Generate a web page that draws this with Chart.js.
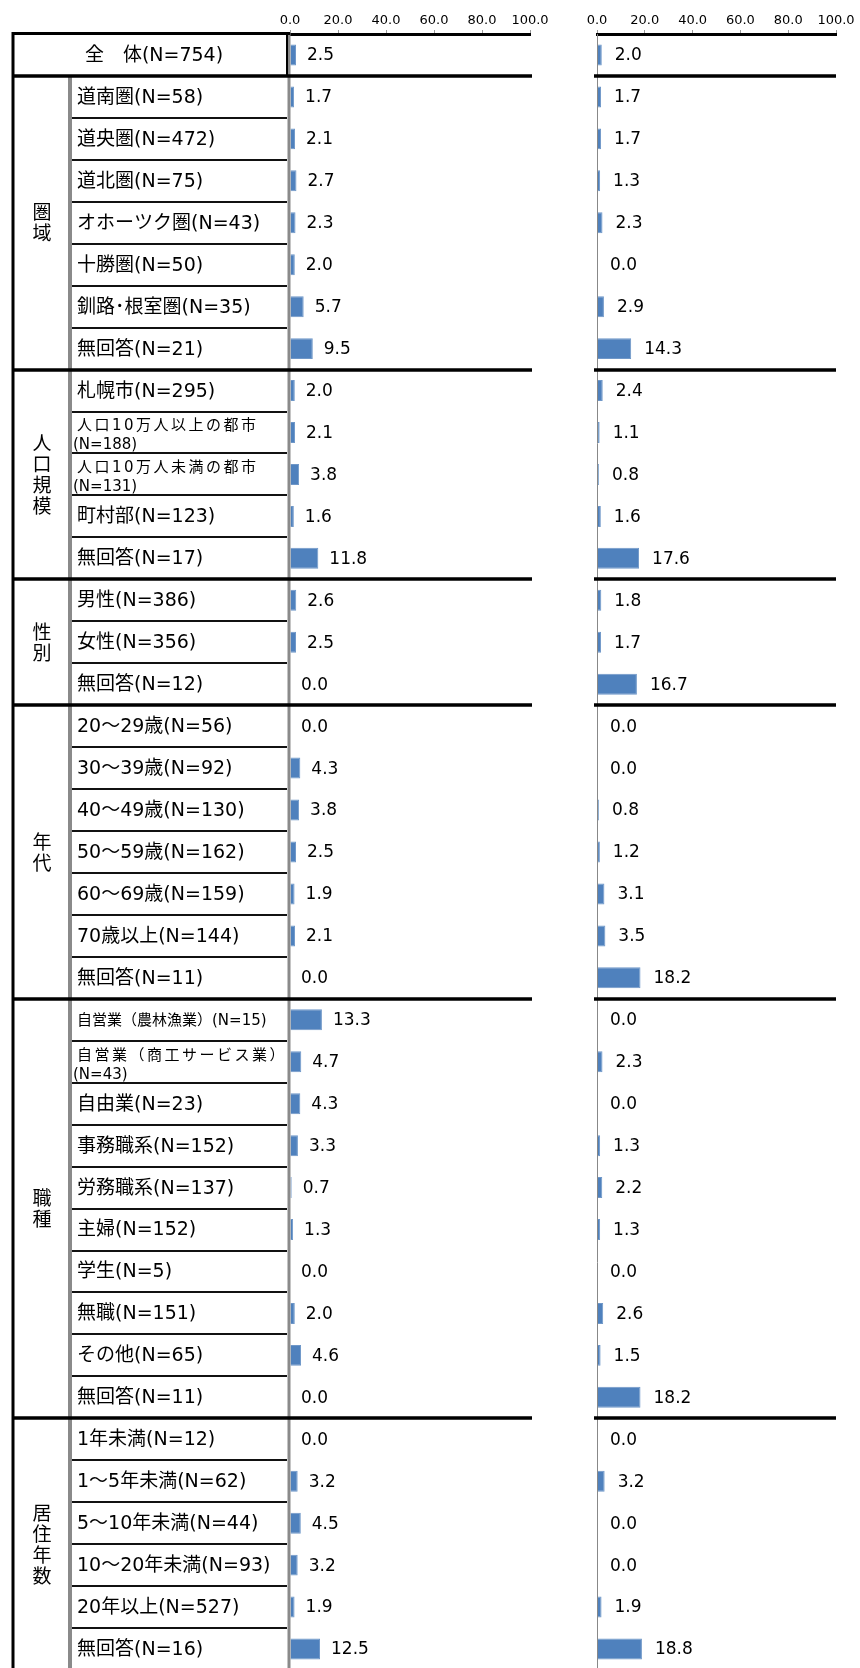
<!DOCTYPE html>
<html lang="ja">
<head>
<meta charset="utf-8">
<script src="https://cdn.jsdelivr.net/npm/chart.js@4.4.1/dist/chart.umd.min.js"></script>
<style>
  html, body { margin: 0; padding: 0; background: #fff; overflow: hidden; }
  #wrap { position: relative; width: 860px; height: 1672px; }
  #leftBox { position: absolute; left: 0; top: 0; width: 560px; height: 1672px; }
  #rightBox { position: absolute; left: 560px; top: 0; width: 300px; height: 1672px; }
</style>
</head>
<body>
<div id="wrap">
  <div id="leftBox"><canvas id="leftChart"></canvas></div>
  <div id="rightBox"><canvas id="rightChart"></canvas></div>
</div>
<script>
// row labels ('\n' = line break inside the cell)
const categories = [
  '全　体(N=754)',
  '道南圏(N=58)', '道央圏(N=472)', '道北圏(N=75)', 'オホーツク圏(N=43)', '十勝圏(N=50)', '釧路･根室圏(N=35)', '無回答(N=21)',
  '札幌市(N=295)', '人口10万人以上の都市\n(N=188)', '人口10万人未満の都市\n(N=131)', '町村部(N=123)', '無回答(N=17)',
  '男性(N=386)', '女性(N=356)', '無回答(N=12)',
  '20～29歳(N=56)', '30～39歳(N=92)', '40～49歳(N=130)', '50～59歳(N=162)', '60～69歳(N=159)', '70歳以上(N=144)', '無回答(N=11)',
  '自営業（農林漁業）(N=15)', '自営業（商工サービス業）\n(N=43)', '自由業(N=23)', '事務職系(N=152)', '労務職系(N=137)', '主婦(N=152)', '学生(N=5)', '無職(N=151)', 'その他(N=65)', '無回答(N=11)',
  '1年未満(N=12)', '1～5年未満(N=62)', '5～10年未満(N=44)', '10～20年未満(N=93)', '20年以上(N=527)', '無回答(N=16)'
];

const leftValues = [
  2.5,
  1.7, 2.1, 2.7, 2.3, 2.0, 5.7, 9.5,
  2.0, 2.1, 3.8, 1.6, 11.8,
  2.6, 2.5, 0.0,
  0.0, 4.3, 3.8, 2.5, 1.9, 2.1, 0.0,
  13.3, 4.7, 4.3, 3.3, 0.7, 1.3, 0.0, 2.0, 4.6, 0.0,
  0.0, 3.2, 4.5, 3.2, 1.9, 12.5
];

const rightValues = [
  2.0,
  1.7, 1.7, 1.3, 2.3, 0.0, 2.9, 14.3,
  2.4, 1.1, 0.8, 1.6, 17.6,
  1.8, 1.7, 16.7,
  0.0, 0.0, 0.8, 1.2, 3.1, 3.5, 18.2,
  0.0, 2.3, 0.0, 1.3, 2.2, 1.3, 0.0, 2.6, 1.5, 18.2,
  0.0, 3.2, 0.0, 0.0, 1.9, 18.8
];

// groups after the first (全体) row
const groupNames = ['圏域', '人口規模', '性別', '年代', '職種', '居住年数'];
const groupSizes = [7, 5, 3, 7, 10, 6];

const tickLabels = ['0.0', '20.0', '40.0', '60.0', '80.0', '100.0'];

const BAR_COLOR = '#4f81bd';
const LABEL_FONT = '"DejaVu Sans", "Noto Sans CJK JP", sans-serif';

// row indexes where a thick group line is drawn (boundary before that row)
function groupBoundaries() {
  const b = [1];
  let r = 1;
  groupSizes.forEach(n => { r += n; b.push(r); });
  return b;
}

function rowGeom(chart) {
  const y = chart.scales.y;
  const h = (y.bottom - y.top) / categories.length;
  return { top: y.top, h: h };
}

const valueLabels = {
  id: 'valueLabels',
  afterDatasetsDraw(chart, args, opts) {
    const ctx = chart.ctx;
    const meta = chart.getDatasetMeta(0);
    const data = chart.data.datasets[0].data;
    ctx.save();
    ctx.font = '17px ' + LABEL_FONT;
    ctx.fillStyle = '#000';
    ctx.textAlign = 'left';
    ctx.textBaseline = 'middle';
    meta.data.forEach((bar, i) => {
      ctx.fillText(data[i].toFixed(1), bar.x + opts.offset, bar.y + 1);
    });
    ctx.restore();
  }
};

// label table on the left side
const tablePlugin = {
  id: 'table',
  afterDraw(chart) {
    const ctx = chart.ctx;
    const g = rowGeom(chart);
    const bottom = chart.height;
    const colL = 13, colG = 70, colR = 287, axisX = chart.chartArea.left;
    ctx.save();

    // item labels
    ctx.fillStyle = '#000';
    ctx.textBaseline = 'middle';
    categories.forEach((lab, i) => {
      const cy = g.top + g.h * (i + 0.5);
      ctx.letterSpacing = '0px';
      if (i === 0) {
        ctx.font = '19px ' + LABEL_FONT;
        ctx.textAlign = 'center';
        ctx.fillText(lab, (colL + colR) / 2 + 4, cy + 1);
        return;
      }
      ctx.textAlign = 'left';
      const lines = lab.split('\n');
      if (lines.length > 1) {
        ctx.font = '15px ' + LABEL_FONT;
        ctx.letterSpacing = '2.5px';
        ctx.fillText(lines[0], 77, cy - 6);
        ctx.letterSpacing = '0px';
        ctx.font = '15px ' + LABEL_FONT;
        ctx.fillText(lines[1], 73, cy + 13);
      } else {
        ctx.font = '19px ' + LABEL_FONT;
        if (ctx.measureText(lab).width > colR - 80) ctx.font = '15px ' + LABEL_FONT;
        ctx.fillText(lab, 77, cy + 1);
      }
    });
    ctx.letterSpacing = '0px';

    // group labels (vertical stacked characters)
    ctx.font = '19px "Noto Sans CJK JP", sans-serif';
    ctx.textAlign = 'center';
    let r = 1;
    groupNames.forEach((name, gi) => {
      const n = groupSizes[gi];
      const cy = g.top + g.h * (r + n / 2);
      const chars = name.split('');
      const step = 21;
      chars.forEach((c, k) => {
        ctx.fillText(c, 42, cy + (k - (chars.length - 1) / 2) * step);
      });
      r += n;
    });

    // row lines inside groups
    const bounds = groupBoundaries();
    ctx.strokeStyle = '#111';
    ctx.lineWidth = 2;
    for (let i = 2; i < categories.length; i++) {
      if (bounds.includes(i)) continue;
      const y = Math.round(g.top + g.h * i);
      ctx.beginPath();
      ctx.moveTo(colG, y);
      ctx.lineTo(colR, y);
      ctx.stroke();
    }

    // group column separator (gray)
    ctx.strokeStyle = '#8a8a8a';
    ctx.lineWidth = 4;
    ctx.beginPath();
    ctx.moveTo(colG, g.top + g.h);
    ctx.lineTo(colG, bottom);
    ctx.stroke();

    // gray axis line
    ctx.lineWidth = 3;
    ctx.beginPath();
    ctx.moveTo(axisX - 1, 32);
    ctx.lineTo(axisX - 1, bottom);
    ctx.stroke();

    // outer borders
    ctx.strokeStyle = '#000';
    ctx.lineWidth = 3;
    ctx.beginPath();
    ctx.moveTo(colL, 32);
    ctx.lineTo(colL, bottom);
    ctx.moveTo(colL - 1, 33.5);
    ctx.lineTo(axisX, 33.5);
    ctx.stroke();

    ctx.lineWidth = 2;
    ctx.beginPath();
    ctx.moveTo(colR, 33);
    ctx.lineTo(colR, g.top + g.h);
    ctx.stroke();

    // group lines
    ctx.lineWidth = 3.5;
    bounds.forEach(b => {
      const y = Math.round(g.top + g.h * b);
      ctx.beginPath();
      ctx.moveTo(colL, y);
      ctx.lineTo(chart.chartArea.right + 2, y);
      ctx.stroke();
    });
    ctx.restore();
  }
};

const rightLines = {
  id: 'rightLines',
  afterDraw(chart) {
    const ctx = chart.ctx;
    const g = rowGeom(chart);
    const a = chart.chartArea;
    ctx.save();
    ctx.strokeStyle = '#888';
    ctx.lineWidth = 1;
    ctx.beginPath();
    ctx.moveTo(a.left + 0.5, 34);
    ctx.lineTo(a.left + 0.5, chart.height);
    ctx.stroke();
    ctx.strokeStyle = '#000';
    ctx.lineWidth = 3.5;
    groupBoundaries().forEach(b => {
      const y = Math.round(g.top + g.h * b);
      ctx.beginPath();
      ctx.moveTo(a.left - 3, y);
      ctx.lineTo(a.right, y);
      ctx.stroke();
    });
    ctx.restore();
  }
};

function makeOptions(padLeft, padRight, labelOffset) {
  return {
    indexAxis: 'y',
    responsive: true,
    maintainAspectRatio: false,
    animation: false,
    layout: { padding: { left: padLeft, right: padRight, top: 0, bottom: 2 } },
    plugins: {
      legend: { display: false },
      tooltip: { enabled: false },
      valueLabels: { offset: labelOffset }
    },
    scales: {
      x: {
        position: 'top',
        min: 0,
        max: 100,
        afterBuildTicks: s => { s.ticks = tickLabels.map(t => ({ value: parseFloat(t) })); },
        afterFit: s => { s.height = 34; },
        ticks: {
          callback: (v, i) => tickLabels[i],
          color: '#000',
          font: { family: 'DejaVu Sans', size: 13 },
          padding: 2,
          maxRotation: 0
        },
        grid: { drawOnChartArea: false, drawTicks: true, tickLength: 4, color: '#999' },
        border: { color: '#000', width: 3 }
      },
      y: { display: false }
    }
  };
}

function makeData(values) {
  return {
    labels: categories,
    datasets: [{
      data: values,
      backgroundColor: BAR_COLOR,
      borderColor: '#6f97c8',
      borderWidth: 1,
      barPercentage: 0.5,
      categoryPercentage: 1.0
    }]
  };
}

new Chart(document.getElementById('leftChart'), {
  type: 'bar',
  data: makeData(leftValues),
  options: makeOptions(290, 30, 11),
  plugins: [valueLabels, tablePlugin]
});

new Chart(document.getElementById('rightChart'), {
  type: 'bar',
  data: makeData(rightValues),
  options: makeOptions(37, 24, 13),
  plugins: [valueLabels, rightLines]
});
</script>
</body>
</html>
